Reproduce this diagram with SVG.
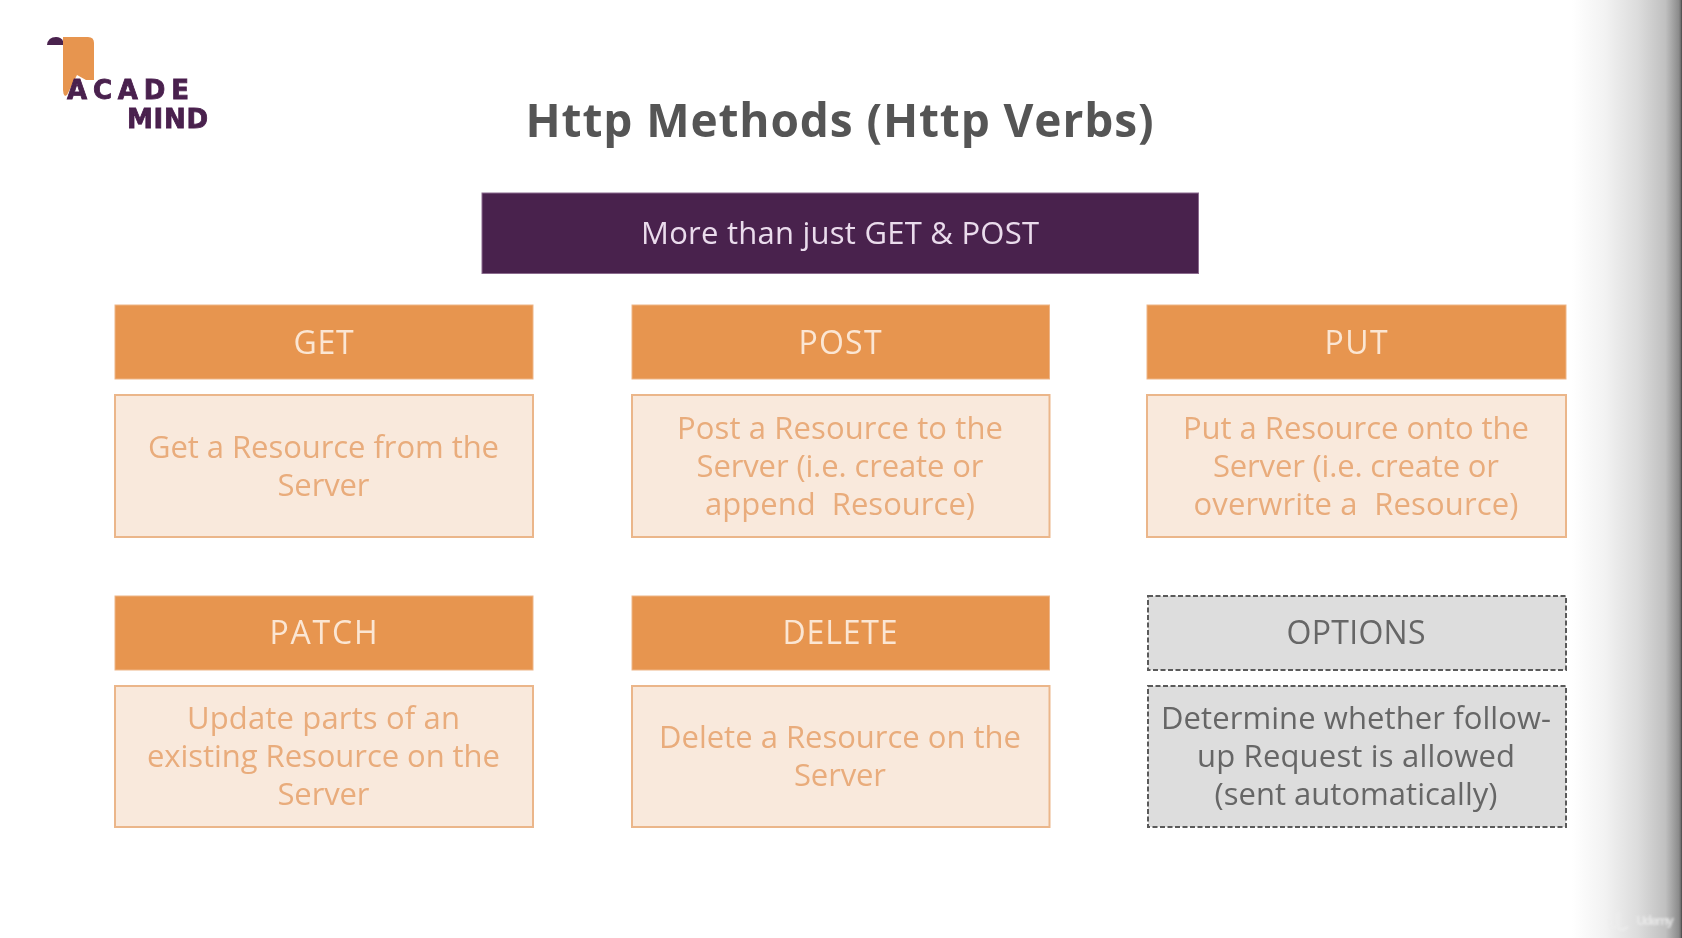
<svg xmlns="http://www.w3.org/2000/svg" width="1682" height="938" viewBox="0 0 1682 938">
<style>
text{font-family:"Open Sans","Noto Sans","Liberation Sans",sans-serif;text-anchor:middle}
.h{fill:#e7954f;stroke:#eeb587;stroke-width:1}
.hx{fill:#fbe6d3;font-size:32px}
.d{fill:#f9e9dc;stroke:#ebb68a;stroke-width:2}
.dx{fill:#e9ac7b;font-size:31px}
.oh,.od{fill:#dddddd;stroke:#5a5a5a;stroke-width:2;stroke-dasharray:5 2.5}
.ox{fill:#666;font-size:31px}
.oc{font-size:32px}
.lg{font-family:"DejaVu Sans","Liberation Sans",sans-serif;font-weight:700;font-size:26px;fill:#4a204e;stroke:#4a204e;stroke-width:.8;text-anchor:start}
</style>
<defs>
<linearGradient id="sh" gradientUnits="userSpaceOnUse" x1="1572" y1="0" x2="1682" y2="0">
<stop offset="0" stop-color="#fff"/><stop offset=".3" stop-color="#f2f2f2"/><stop offset=".6" stop-color="#dcdcdc"/><stop offset=".85" stop-color="#c0c0c0"/><stop offset=".97" stop-color="#8c8c8c"/><stop offset=".985" stop-color="#777"/><stop offset="1" stop-color="#444"/>
</linearGradient>
<filter id="soft" x="-2%" y="-2%" width="104%" height="104%"><feGaussianBlur stdDeviation="0.6"/></filter>
<filter id="wm" x="-10%" y="-10%" width="120%" height="120%"><feGaussianBlur stdDeviation="1"/></filter>
</defs>
<rect width="1682" height="938" fill="#fff"/>
<rect x="1572" width="110" height="938" fill="url(#sh)"/>
<g filter="url(#soft)">
<g id="logo">
<path d="M63 37H88Q94 37 94 43V80H86L77 75L67 95L65 96Q63 94 63 90Z" fill="#e7954f"/>
<path d="M47 45Q48 37 56 37Q61 37 63 41V45Z" fill="#4a204e"/>
<text class="lg" x="67" y="99" textLength="122">ACADE</text>
<text class="lg" x="127" y="128" textLength="81">MIND</text>
</g>
<g id="title"><text x="839.500" y="137" font-size="46" font-weight="700" fill="#555" textLength="628">Http Methods (Http Verbs)</text></g>
<g id="banner"><rect x="482" y="193" width="716.500" height="80.500" fill="#4a204e" stroke="#8a6a8d" stroke-width="1"/><text x="840" y="244" font-size="31" fill="#eadcec" textLength="398">More than just GET &amp; POST</text></g>

<g id="get"><rect class="h" x="115" y="305" width="418" height="74"/><text class="hx" x="323.500" y="354" textLength="60">GET</text></g>
<g id="get-desc"><rect class="d" x="115" y="395" width="418" height="142"/>
<text class="dx" x="323.500" y="458" textLength="351">Get a Resource from the</text><text class="dx" x="323.500" y="496" textLength="92">Server</text></g>

<g id="post"><rect class="h" x="632" y="305" width="417.500" height="74"/><text class="hx" x="840" y="354" textLength="83">POST</text></g>
<g id="post-desc"><rect class="d" x="632" y="395" width="417.500" height="142"/>
<text class="dx" x="840" y="439" textLength="326">Post a Resource to the</text><text class="dx" x="840" y="477" textLength="287">Server (i.e. create or</text><text class="dx" x="840" y="515" textLength="270" xml:space="preserve">append  Resource)</text></g>

<g id="put"><rect class="h" x="1147" y="305" width="419" height="74"/><text class="hx" x="1356" y="354" textLength="63">PUT</text></g>
<g id="put-desc"><rect class="d" x="1147" y="395" width="419" height="142"/>
<text class="dx" x="1356" y="439" textLength="346">Put a Resource onto the</text><text class="dx" x="1356" y="477" textLength="286">Server (i.e. create or</text><text class="dx" x="1356" y="515" textLength="325" xml:space="preserve">overwrite a  Resource)</text></g>

<g id="patch"><rect class="h" x="115" y="596" width="418" height="74"/><text class="hx" x="323.500" y="644" textLength="108">PATCH</text></g>
<g id="patch-desc"><rect class="d" x="115" y="686" width="418" height="141"/>
<text class="dx" x="323.500" y="729" textLength="273">Update parts of an</text><text class="dx" x="323.500" y="767" textLength="353">existing Resource on the</text><text class="dx" x="323.500" y="805" textLength="92">Server</text></g>

<g id="delete"><rect class="h" x="632" y="596" width="417.500" height="74"/><text class="hx" x="840" y="644" textLength="115">DELETE</text></g>
<g id="delete-desc"><rect class="d" x="632" y="686" width="417.500" height="141"/>
<text class="dx" x="840" y="748" textLength="362">Delete a Resource on the</text><text class="dx" x="840" y="786" textLength="92">Server</text></g>

<g id="options"><rect class="oh" x="1148" y="596" width="418" height="74"/><text class="ox oc" x="1356" y="644" textLength="139">OPTIONS</text></g>
<g id="options-desc"><rect class="od" x="1148" y="686" width="418" height="141"/>
<text class="ox" x="1356" y="729" textLength="390">Determine whether follow-</text><text class="ox" x="1356" y="767" textLength="318">up Request is allowed</text><text class="ox" x="1356" y="805" textLength="283">(sent automatically)</text></g>
</g>
<g id="watermark" filter="url(#wm)" opacity=".75">
<path d="M1609 919V926Q1612 930 1616 926M1618 912V928Q1621 932 1628 927" fill="none" stroke="#eee" stroke-width="2.500"/>
<text x="1655" y="925" font-size="13" font-weight="700" fill="#eee" textLength="38">Udemy</text>
</g>
</svg>
